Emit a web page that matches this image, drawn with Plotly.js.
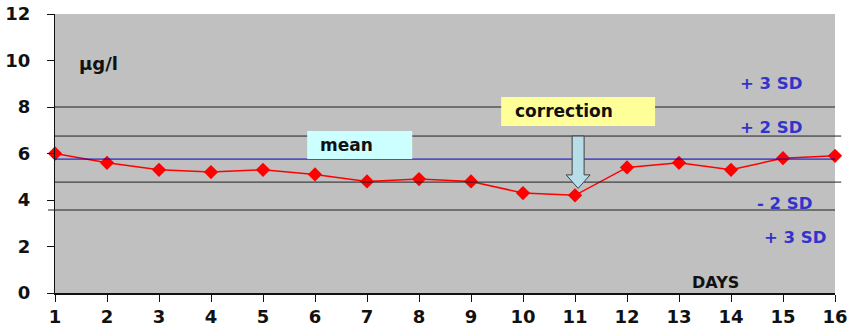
<!DOCTYPE html>
<html><head><meta charset="utf-8">
<script src="https://cdn.plot.ly/plotly-3.0.1.min.js"></script>
<style>html,body{margin:0;padding:0;background:#fff}</style>
</head><body>
<div id="chart" style="width:853px;height:332px"></div>
<script>
const days = [1,2,3,4,5,6,7,8,9,10,11,12,13,14,15,16];
const values = [6.0,5.6,5.3,5.2,5.3,5.1,4.8,4.9,4.8,4.3,4.2,5.4,5.6,5.3,5.8,5.9];
const meanLevel = 5.76;
const sdLevels = [8.0, 6.75, 4.77, 3.57];
const sdLabels = ['+ 3 SD', '+ 2 SD', '- 2 SD', '+ 3 SD'];
const yTicks = [0,2,4,6,8,10,12];

const F = 'DejaVu Sans, Verdana, sans-serif';
const blue = '#3333CC';

const shapes = [];
const sdExt = [[0,1],[0,1.008],[0,1.008],[-0.009,1]];
sdLevels.forEach((v,i)=>shapes.push({type:'line',xref:'paper',yref:'y',x0:sdExt[i][0],x1:sdExt[i][1],y0:v,y1:v,line:{color:'#202020',width:1}}));
shapes.push({type:'line',xref:'paper',yref:'y',x0:0,x1:1,y0:meanLevel,y1:meanLevel,line:{color:'#0000CC',width:1}});
// label boxes
shapes.push({type:'rect',xref:'x',yref:'y',x0:5.85,x1:7.87,y0:meanLevel,y1:6.97,fillcolor:'#CCFFFF',line:{width:0},layer:'above'});
shapes.push({type:'rect',xref:'x',yref:'y',x0:9.58,x1:12.54,y0:7.18,y1:8.43,fillcolor:'#FFFF99',line:{width:0},layer:'above'});
// block arrow
shapes.push({type:'path',xref:'x',yref:'y',path:'M 10.945,6.75 L 11.175,6.75 L 11.175,5.08 L 11.29,5.08 L 11.06,4.5 L 10.83,5.08 L 10.945,5.08 Z',fillcolor:'#B7DEE8',line:{color:'#404040',width:1},layer:'above'});

const ann = [
  {x:1.42,y:9.89,text:'μg/l',xanchor:'left',font:{size:18,color:'#111'}},
  {x:6.05,y:6.36,text:'mean',xanchor:'left',font:{size:17,color:'#111'}},
  {x:9.8,y:7.82,text:'correction',xanchor:'left',font:{size:17,color:'#111'}},
  {x:13.21,y:0.45,text:'DAYS',xanchor:'left',font:{size:16,color:'#111'}}
];
const sdPos = [[14.13,9.03],[14.13,7.12],[14.46,3.87],[14.6,2.37]];
sdLabels.forEach((t,i)=>ann.push({x:sdPos[i][0],y:sdPos[i][1],text:t,xanchor:'left',font:{size:16.5,color:blue}}));
ann.forEach(a=>{a.xref='x';a.yref='y';a.showarrow=false;a.yanchor='middle';a.font.family=F;a.font.weight='bold';a.text='<b>'+a.text+'</b>';});

const trace = {x:days,y:values,type:'scatter',mode:'lines+markers',
  line:{color:'#FF0000',width:1.5},marker:{symbol:'diamond',size:11,color:'#FF0000'},cliponaxis:false,hoverinfo:'none'};

const layout = {
  width:853,height:332,margin:{l:55,r:18,t:14,b:39},
  paper_bgcolor:'#FFFFFF',plot_bgcolor:'#C0C0C0',showlegend:false,
  font:{family:F,size:16,color:'#111'},
  xaxis:{range:[1,16],tickvals:days,ticktext:days.map(d=>'<b>'+d+'</b>'),showgrid:false,zeroline:false,
    showline:true,linecolor:'#111',linewidth:1.5,ticks:'outside',ticklen:7,tickcolor:'#111',tickfont:{size:18,family:F,weight:'bold',color:'#111'}},
  yaxis:{range:[0,12],tickvals:yTicks,ticktext:yTicks.map(d=>'<b>'+d+'</b>\u00a0\u00a0'),showgrid:false,zeroline:false,
    showline:true,linecolor:'#111',linewidth:1.5,ticks:'outside',ticklen:7,tickcolor:'#111',tickfont:{size:18,family:F,weight:'bold',color:'#111'}},
  shapes:shapes,annotations:ann
};
Plotly.newPlot('chart',[trace],layout,{staticPlot:true,displayModeBar:false});
</script>
</body></html>
